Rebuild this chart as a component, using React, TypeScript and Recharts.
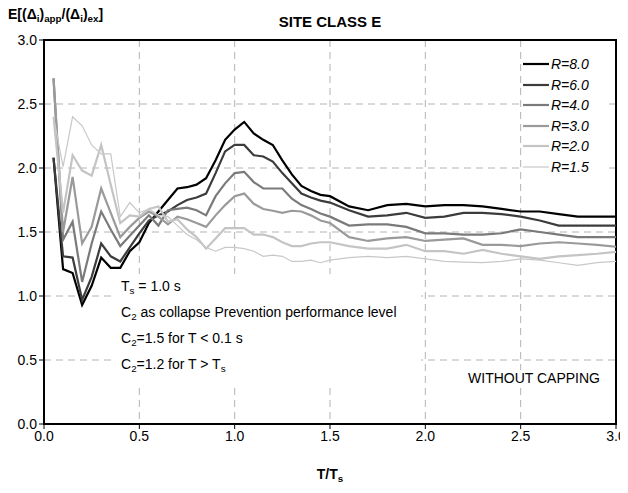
import React from "react";
import { LineChart, Line, XAxis, YAxis, CartesianGrid, ReferenceArea } from "recharts";

// T/Ts sample points
const ratio = [
  0.05, 0.1, 0.15, 0.2, 0.25, 0.3, 0.35, 0.4, 0.45, 0.5,
  0.55, 0.6, 0.65, 0.7, 0.75, 0.8, 0.85, 0.9, 0.95, 1.0,
  1.05, 1.1, 1.15, 1.2, 1.25, 1.3, 1.35, 1.4, 1.45, 1.5,
  1.6, 1.7, 1.8, 1.9, 2.0, 2.1, 2.2, 2.3, 2.4, 2.5,
  2.6, 2.7, 2.8, 2.9, 3.0,
];

const r80 = [
  2.08, 1.21, 1.18, 0.93, 1.08, 1.3, 1.22, 1.22, 1.35, 1.42,
  1.57, 1.66, 1.75, 1.84, 1.85, 1.87, 1.92, 2.06, 2.22, 2.3,
  2.36, 2.27, 2.22, 2.18, 2.06, 1.95, 1.86, 1.82, 1.79, 1.78,
  1.7, 1.67, 1.71, 1.72, 1.7, 1.71, 1.71, 1.7, 1.68, 1.66,
  1.66, 1.64, 1.62, 1.62, 1.62,
];
const r60 = [
  2.08, 1.31, 1.3, 0.97, 1.15, 1.41, 1.31, 1.27, 1.38, 1.49,
  1.59, 1.63, 1.66, 1.71, 1.75, 1.77, 1.8, 1.96, 2.13, 2.18,
  2.18, 2.1, 2.09, 2.05, 1.96, 1.88, 1.8, 1.77, 1.745, 1.73,
  1.67, 1.62, 1.63, 1.65, 1.61, 1.62, 1.65, 1.65, 1.64, 1.62,
  1.59, 1.55, 1.55, 1.55, 1.55,
];
const r40 = [
  2.7, 1.44, 1.58, 1.11, 1.41, 1.66, 1.52, 1.39, 1.47, 1.55,
  1.63, 1.55, 1.67, 1.68, 1.69, 1.67, 1.63, 1.78, 1.88, 1.96,
  1.97, 1.89, 1.84, 1.84, 1.84, 1.76, 1.71, 1.68, 1.645, 1.62,
  1.55, 1.56, 1.56, 1.54, 1.49, 1.49, 1.48, 1.48, 1.49, 1.52,
  1.5, 1.48, 1.46, 1.46, 1.46,
];
const r30 = [
  2.7, 1.5, 1.93, 1.41, 1.54, 1.84, 1.65, 1.46, 1.54, 1.61,
  1.66, 1.62, 1.56, 1.62, 1.6, 1.57, 1.54, 1.63, 1.71, 1.78,
  1.8, 1.72, 1.68, 1.666, 1.65, 1.666, 1.66, 1.63, 1.59, 1.57,
  1.46, 1.43, 1.45, 1.46, 1.43, 1.44, 1.45, 1.4, 1.4, 1.39,
  1.41, 1.42, 1.41, 1.4, 1.385,
];
const r20 = [
  2.4, 1.65, 2.1, 1.98, 1.94, 2.18, 1.87, 1.57, 1.63, 1.62,
  1.68, 1.7, 1.58, 1.6, 1.52, 1.46, 1.37, 1.45, 1.53, 1.53,
  1.53, 1.48, 1.48, 1.46, 1.42, 1.39, 1.39, 1.41, 1.42, 1.42,
  1.39, 1.37, 1.37, 1.4, 1.35, 1.35, 1.33, 1.36, 1.33, 1.31,
  1.29, 1.31, 1.32, 1.33, 1.345,
];
const r15 = [
  2.4, 2.01, 2.4, 2.33, 2.18, 2.11, 2.11, 1.62, 1.73, 1.65,
  1.68, 1.63, 1.62, 1.55, 1.48, 1.44, 1.38, 1.35, 1.38, 1.38,
  1.37, 1.35, 1.31, 1.32, 1.31, 1.27, 1.27, 1.28, 1.26, 1.28,
  1.3, 1.31, 1.3, 1.31, 1.29, 1.27, 1.265, 1.26, 1.27, 1.29,
  1.28, 1.26, 1.24, 1.26, 1.27,
];

const axisTicks = [0, 0.5, 1, 1.5, 2, 2.5, 3];

const series = [
  { key: "r80", name: "R=8.0", values: r80, color: "#000000", width: 2.2 },
  { key: "r60", name: "R=6.0", values: r60, color: "#3c3c3c", width: 2.2 },
  { key: "r40", name: "R=4.0", values: r40, color: "#7a7a7a", width: 2.2 },
  { key: "r30", name: "R=3.0", values: r30, color: "#9a9a9a", width: 2.2 },
  { key: "r20", name: "R=2.0", values: r20, color: "#c4c4c4", width: 2.2 },
  { key: "r15", name: "R=1.5", values: r15, color: "#c8c8c8", width: 1.2 },
];

const data = ratio.map((t, i) => {
  const row: Record<string, number> = { t };
  series.forEach((s) => (row[s.key] = s.values[i]));
  return row;
});

const font = "'Liberation Sans', Arial, sans-serif";
const sub = { fontSize: "0.7em", position: "relative" as const, top: 3 };
const tickStyle = { fontSize: 14, fill: "#000", fontFamily: font };

export default function App() {
  return (
    <div style={{ position: "relative", width: 628, height: 493, fontFamily: font, color: "#000", margin: -8, background: "#fff" }}>
      <LineChart width={628} height={493} data={data} margin={{ top: 40, right: 12, left: 0, bottom: 49 }}>
        <CartesianGrid strokeDasharray="7 5" stroke="#b4b4b4" />
        <XAxis
          dataKey="t"
          type="number"
          domain={[0, 3]}
          ticks={axisTicks}
          tickFormatter={(v: number) => v.toFixed(1)}
          tick={tickStyle}
          tickLine={{ stroke: "#000" }}
          axisLine={{ stroke: "#000", strokeWidth: 2 }}
          tickSize={5}
          height={20}
        />
        <YAxis
          type="number"
          domain={[0, 3]}
          ticks={axisTicks}
          tickFormatter={(v: number) => v.toFixed(1)}
          tick={tickStyle}
          tickLine={{ stroke: "#000" }}
          axisLine={{ stroke: "#000", strokeWidth: 2 }}
          tickSize={5}
          width={44}
        />
        {series.map((s) => (
          <Line
            key={s.key}
            dataKey={s.key}
            name={s.name}
            type="linear"
            stroke={s.color}
            strokeWidth={s.width}
            dot={false}
            isAnimationActive={false}
          />
        ))}
        <ReferenceArea x1={0} x2={3} y1={0} y2={3} fill="none" stroke="#000" strokeWidth={2} ifOverflow="visible" />
      </LineChart>

      <div style={{ position: "absolute", left: 8, top: 6, fontSize: 14, fontWeight: "bold" }}>
        E[(Δ<span style={sub}>i</span>)<span style={sub}>app</span>/(Δ<span style={sub}>i</span>)<span style={sub}>ex</span>]
      </div>
      <div style={{ position: "absolute", left: 0, width: 660, top: 13, textAlign: "center", fontSize: 15, fontWeight: "bold" }}>
        SITE CLASS E
      </div>
      <div style={{ position: "absolute", left: 0, width: 660, top: 466, textAlign: "center", fontSize: 14, fontWeight: "bold" }}>
        T/T<span style={sub}>s</span>
      </div>

      <div style={{ position: "absolute", left: 523, top: 50, width: 86, height: 124, background: "#fff" }}>
        {series.map((s, i) => (
          <div key={s.key} style={{ position: "absolute", left: 0, top: 6 + i * 20.5, height: 16, display: "flex", alignItems: "center" }}>
            <svg width={26} height={16}>
              <line x1={0} y1={8} x2={26} y2={8} stroke={s.color} strokeWidth={s.width} />
            </svg>
            <span style={{ marginLeft: 2, fontSize: 14, fontStyle: "italic" }}>{s.name}</span>
          </div>
        ))}
      </div>

      <div style={{ position: "absolute", left: 116, top: 274, width: 300, background: "#fff", fontSize: 14, lineHeight: "24px", paddingLeft: 5, paddingBottom: 8 }}>
        <div>T<span style={sub}>s</span> = 1.0 s</div>
        <div>C<span style={sub}>2</span> as collapse Prevention performance level</div>
        <div>C<span style={sub}>2</span>=1.5 for T &lt; 0.1 s</div>
        <div>C<span style={sub}>2</span>=1.2 for T &gt; T<span style={sub}>s</span></div>
      </div>

      <div style={{ position: "absolute", right: 28, top: 370, background: "#fff", fontSize: 14 }}>
        WITHOUT CAPPING
      </div>
    </div>
  );
}
